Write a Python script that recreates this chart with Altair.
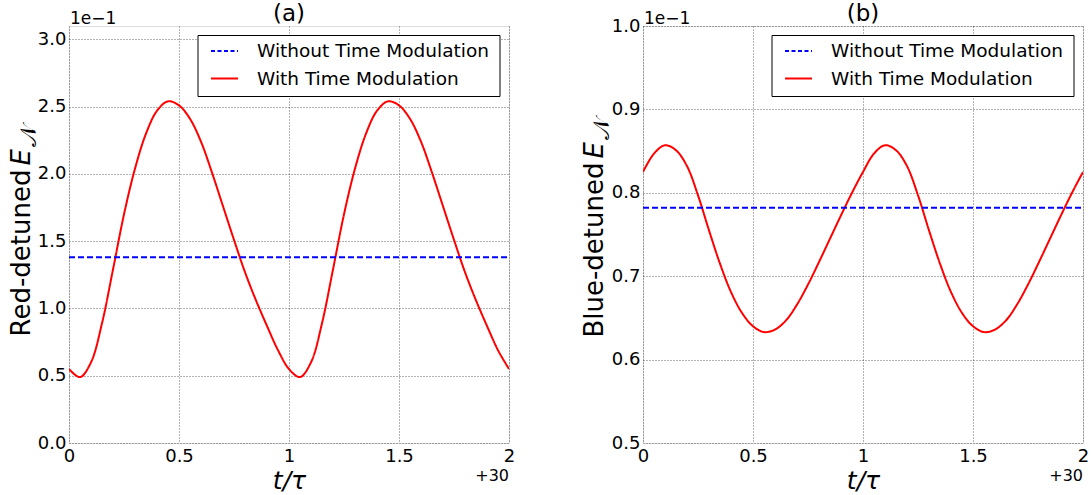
import altair as alt
import pandas as pd

# ---------------- data ----------------
# time t/tau (axis shows offset +30)
t_vals = [30.00, 30.05, 30.10, 30.15, 30.20, 30.25, 30.30, 30.35, 30.40, 30.45,
          30.50, 30.55, 30.60, 30.65, 30.70, 30.75, 30.80, 30.85, 30.90, 30.95,
          31.00, 31.05, 31.10, 31.15, 31.20, 31.25, 31.30, 31.35, 31.40, 31.45,
          31.50, 31.55, 31.60, 31.65, 31.70, 31.75, 31.80, 31.85, 31.90, 31.95,
          32.00]

# (a) red-detuned E_N, with time modulation (values x 1e-1)
red_with = [0.55, 0.49, 0.60, 0.89, 1.29, 1.70, 2.04, 2.30, 2.47, 2.54,
            2.51, 2.41, 2.24, 2.01, 1.76, 1.51, 1.27, 1.06, 0.87, 0.69,
            0.55, 0.49, 0.60, 0.89, 1.29, 1.70, 2.04, 2.30, 2.47, 2.54,
            2.51, 2.41, 2.24, 2.01, 1.76, 1.51, 1.27, 1.06, 0.87, 0.69,
            0.55]
red_without = 1.38

# (b) blue-detuned E_N, with time modulation (values x 1e-1)
blue_with = [0.825, 0.847, 0.857, 0.851, 0.832, 0.797, 0.755, 0.715, 0.681, 0.656,
             0.640, 0.633, 0.636, 0.647, 0.666, 0.690, 0.717, 0.745, 0.773, 0.800,
             0.825, 0.847, 0.857, 0.851, 0.832, 0.797, 0.755, 0.715, 0.681, 0.656,
             0.640, 0.633, 0.636, 0.647, 0.666, 0.690, 0.717, 0.745, 0.773, 0.800,
             0.825]
blue_without = 0.782

t_span = [30.0, 32.0]
x_ticks = [30.0, 30.5, 31.0, 31.5, 32.0]
series_names = ["Without Time Modulation", "With Time Modulation"]

FONT = "DejaVu Sans"
W, H = 440, 417


def one(text):
    return alt.Chart(pd.DataFrame({"txt": [text]}))


def panel(with_vals, without_val, y_dom, y_ticks, letter, word, t_end, e_start, n_start, base_x):
    df = pd.DataFrame({
        "t": t_vals + t_span,
        "v": [v * 0.1 for v in with_vals] + [without_val * 0.1] * 2,
        "s": [series_names[1]] * len(t_vals) + [series_names[0]] * 2,
    })
    lines = alt.Chart(df).mark_line(strokeWidth=2, interpolate="catmull-rom", clip=True).encode(
        x=alt.X("t:Q", scale=alt.Scale(domain=t_span, nice=False, zero=False),
                axis=alt.Axis(values=x_ticks, labelExpr="format(datum.value - 30, '~g')",
                              title="t/τ", titleFont=FONT, titleFontStyle="italic",
                              titleFontWeight="normal", titleFontSize=25, titlePadding=3,
                              labelFont=FONT, labelFontSize=18, labelColor="black",
                              labelPadding=4, labelFlush=False, ticks=False, tickSize=0,
                              domain=False, grid=True, gridColor="black", gridDash=[1, 2],
                              gridOpacity=0.75, gridWidth=0.8)),
        y=alt.Y("v:Q", scale=alt.Scale(domain=y_dom, nice=False, zero=False),
                axis=alt.Axis(values=y_ticks, labelExpr="format(datum.value * 10, '.1f')",
                              title=None, labelFont=FONT, labelFontSize=18, labelColor="black",
                              labelPadding=3, labelFlush=False, ticks=False, tickSize=0,
                              domain=False, grid=True, gridColor="black", gridDash=[1, 2],
                              gridOpacity=0.75, gridWidth=0.8)),
        color=alt.Color("s:N", scale=alt.Scale(domain=series_names, range=["#0000ff", "#ff0000"]), legend=None),
        strokeDash=alt.StrokeDash("s:N", scale=alt.Scale(domain=series_names, range=[[6, 3], [1, 0]]), legend=None),
        order=alt.Order("t:Q"),
    )

    # legend box
    box = one("box").mark_rect(fill="white", stroke="black", strokeWidth=1).encode(
        x=alt.value(129), x2=alt.value(431), y=alt.value(9.5), y2=alt.value(70.5))
    s1 = one("s1").mark_rule(color="#0000ff", strokeWidth=2, strokeDash=[4, 2.5]).encode(
        x=alt.value(142), x2=alt.value(169), y=alt.value(25))
    s2 = one("s2").mark_rule(color="#ff0000", strokeWidth=2).encode(
        x=alt.value(142), x2=alt.value(169), y=alt.value(52.5))
    l1 = one(series_names[0]).mark_text(align="left", baseline="middle", font=FONT, fontSize=18.5, color="black").encode(
        x=alt.value(188), y=alt.value(25), text="txt:N")
    l2 = one(series_names[1]).mark_text(align="left", baseline="middle", font=FONT, fontSize=18.5, color="black").encode(
        x=alt.value(188), y=alt.value(52.5), text="txt:N")

    title = one(letter).mark_text(align="center", baseline="alphabetic", font=FONT, fontSize=23, color="black").encode(
        x=alt.value(W / 2), y=alt.value(-5), text="txt:N")
    mult = one("1e\u22121").mark_text(align="left", baseline="alphabetic", font=FONT, fontSize=17, color="black").encode(
        x=alt.value(1), y=alt.value(-2), text="txt:N")
    offs = one("+30").mark_text(align="right", baseline="alphabetic", font=FONT, fontSize=16, color="black").encode(
        x=alt.value(W), y=alt.value(455), text="txt:N")

    yt1 = one(word).mark_text(angle=270, align="right", baseline="alphabetic", font=FONT, fontSize=26, color="black").encode(
        x=alt.value(base_x), y=alt.value(t_end), text="txt:N")
    yt2 = one("E").mark_text(angle=270, align="left", baseline="alphabetic", font=FONT, fontSize=26,
                             fontStyle="italic", color="black").encode(
        x=alt.value(base_x), y=alt.value(e_start), text="txt:N")
    yt3 = one("\U0001D4A9").mark_text(angle=270, align="left", baseline="alphabetic", font=FONT, fontSize=23,
                                     color="black").encode(
        x=alt.value(base_x + 6), y=alt.value(n_start), text="txt:N")

    return alt.layer(lines, box, s1, s2, l1, l2, title, mult, offs, yt1, yt2, yt3).properties(width=W, height=H)


left = panel(red_with, red_without, [0.0, 0.31], [0.0, 0.05, 0.10, 0.15, 0.20, 0.25, 0.30],
             "(a)", "Red-detuned", 143.5, 139.5, 120.5, -39)
right = panel(blue_with, blue_without, [0.05, 0.10], [0.05, 0.06, 0.07, 0.08, 0.09, 0.10],
              "(b)", "Blue-detuned", 136.5, 132.5, 113.5, -40)

chart = alt.hconcat(left, right, spacing=65).properties(
    padding={"left": 8, "top": 2, "right": 0, "bottom": 0}
).configure_view(stroke="black", strokeWidth=1).configure(font=FONT)

chart.save("out.html", embed_options={"renderer": "svg", "actions": False})
